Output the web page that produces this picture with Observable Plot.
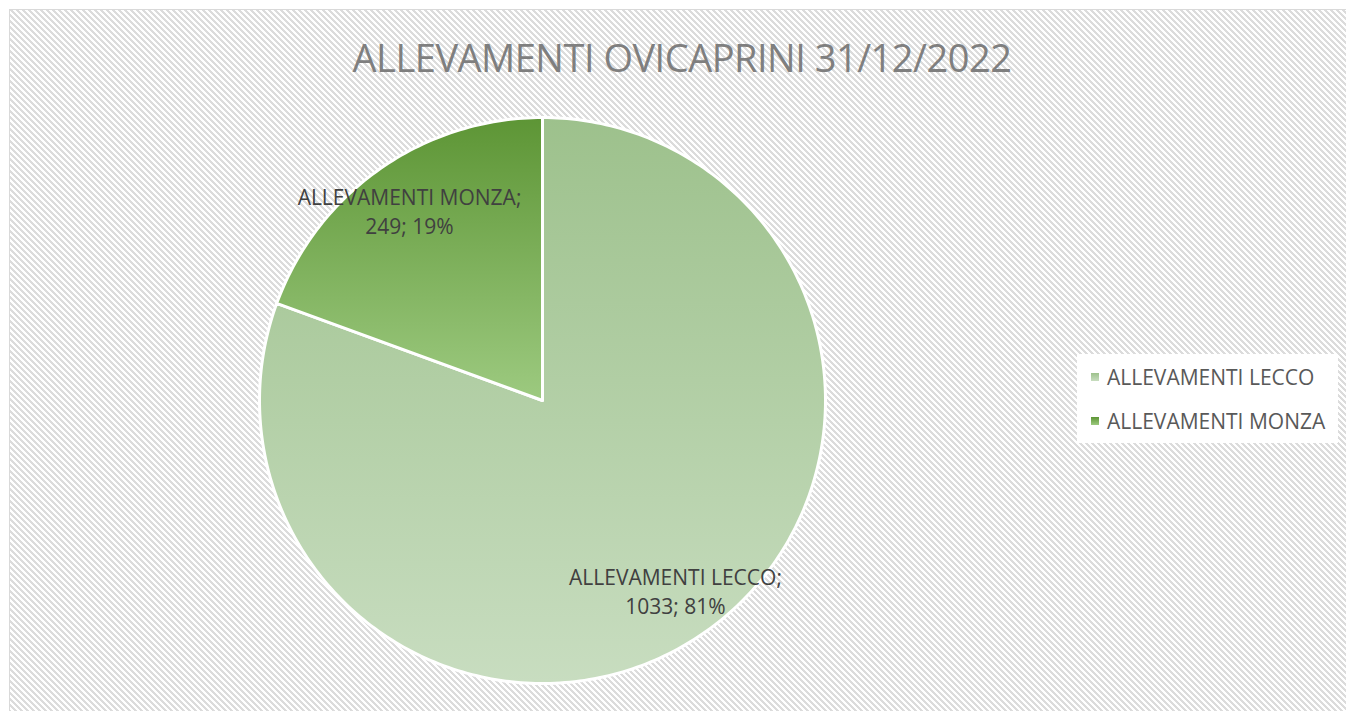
<!DOCTYPE html>
<html>
<head>
<meta charset="utf-8">
<script src="https://cdn.jsdelivr.net/npm/d3@7"></script>
<script src="https://cdn.jsdelivr.net/npm/@observablehq/plot@0.6"></script>
<style>
  html, body { margin: 0; padding: 0; background: #fff; }
  #wrap { position: relative; width: 1346px; height: 711px; overflow: hidden; background: #fff; font-family: "Open Sans", sans-serif; }
  #area { position: absolute; left: 9px; top: 9px; width: 1346px; height: 711px; border-left: 1px solid #d9d9d9; border-top: 1px solid #d9d9d9; background-color: #fff; }
  #title { position: absolute; left: 0; width: 1364px; top: 31px; text-align: center; color: #7f7f7f; font-size: 38px; letter-spacing: -0.5px; white-space: nowrap; }
  #plot { position: absolute; left: 0; top: 0; }
  #legend { position: absolute; left: 1077px; top: 354px; width: 261px; height: 89px; background: #fff; }
  .item { position: absolute; left: 14px; height: 24px; display: flex; align-items: center; color: #595959; font-size: 21px; white-space: nowrap; }
  .sw { width: 8px; height: 8px; margin-right: 8px; }
</style>
</head>
<body>
<div id="wrap">
  <div id="area"></div>
  <div id="title"></div>
  <div id="plot"></div>
  <div id="legend"></div>
</div>
<script>
const title = "ALLEVAMENTI OVICAPRINI 31/12/2022";
const categories = ["ALLEVAMENTI LECCO", "ALLEVAMENTI MONZA"];
const values = [1033, 249];
const gradTop = ["#9dc18c", "#5d9535"];
const gradBottom = ["#c8ddc0", "#9dca80"];

document.getElementById("title").textContent = title;

// crisp pixel hatch background ("\" diagonal stripes)
(function () {
  const c = document.createElement("canvas");
  const P = 6;
  c.width = P; c.height = P;
  const ctx = c.getContext("2d");
  ctx.fillStyle = "#ffffff"; ctx.fillRect(0, 0, P, P);
  ctx.fillStyle = "#dcdcdc";
  for (let yy = 0; yy < P; yy++) for (let xx = 0; xx < P; xx++) {
    if ((((xx - yy) % P) + P) % P < 3) ctx.fillRect(xx, yy, 1, 1);
  }
  document.getElementById("area").style.backgroundImage = `url(${c.toDataURL()})`;
})();

const total = d3.sum(values);
const pie = d3.pie().sort(null).value(d => d.value)(categories.map((c, i) => ({name: c, value: values[i], i})));

// polygon outlines for each slice (unit circle, y up, clockwise from 12 o'clock)
const slices = pie.map(p => {
  const pts = [{x: 0, y: 0}];
  const n = Math.max(2, Math.ceil((p.endAngle - p.startAngle) / (Math.PI / 180)));
  for (let k = 0; k <= n; k++) {
    const a = p.startAngle + (p.endAngle - p.startAngle) * k / n;
    pts.push({x: Math.sin(a), y: Math.cos(a)});
  }
  return {p, pts};
});

const labels = pie.map(p => {
  const mid = (p.startAngle + p.endAngle) / 2;
  const pct = Math.round(p.data.value / total * 100);
  return {x: 0.82 * Math.sin(mid), y: 0.82 * Math.cos(mid), text: `${p.data.name};\n${p.data.value}; ${pct}%`};
});

const defsMark = () => {
  const ns = "http://www.w3.org/2000/svg";
  const defs = document.createElementNS(ns, "defs");
  categories.forEach((c, i) => {
    const g = document.createElementNS(ns, "linearGradient");
    g.setAttribute("id", "grad" + i);
    g.setAttribute("x1", "0"); g.setAttribute("y1", "0");
    g.setAttribute("x2", "0"); g.setAttribute("y2", "1");
    [[0, gradTop[i]], [1, gradBottom[i]]].forEach(([o, col]) => {
      const s = document.createElementNS(ns, "stop");
      s.setAttribute("offset", o);
      s.setAttribute("stop-color", col);
      g.appendChild(s);
    });
    defs.appendChild(g);
  });
  return defs;
};

const chart = Plot.plot({
  width: 1346,
  height: 711,
  margin: 0,
  style: {background: "transparent", overflow: "visible"},
  x: {domain: [-1, 1], range: [259, 825], axis: null},
  y: {domain: [-1, 1], range: [683, 117], axis: null},
  marks: [
    defsMark,
    ...slices.map(s => Plot.line(s.pts, {
      x: "x", y: "y", curve: "linear-closed",
      fill: `url(#grad${s.p.data.i})`, stroke: "#ffffff", strokeWidth: 3, strokeLinejoin: "round"
    })),
    Plot.text(labels, {
      x: "x", y: "y", text: "text", fill: "#404040", fontSize: 21,
      fontFamily: "Open Sans", lineHeight: 1.38, textAnchor: "middle"
    })
  ]
});
document.getElementById("plot").appendChild(chart);

const legend = document.getElementById("legend");
categories.forEach((c, i) => {
  const it = document.createElement("div");
  it.className = "item";
  it.style.top = (11 + i * 44) + "px";
  const sw = document.createElement("div");
  sw.className = "sw";
  sw.style.background = `linear-gradient(${gradTop[i]}, ${gradBottom[i]})`;
  it.appendChild(sw);
  it.appendChild(document.createTextNode(c));
  legend.appendChild(it);
});
</script>
</body>
</html>
